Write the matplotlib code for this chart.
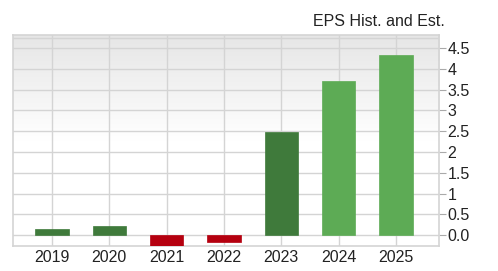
import matplotlib
matplotlib.use("Agg")
import matplotlib.pyplot as plt
import numpy as np

years = ["2019", "2020", "2021", "2022", "2023", "2024", "2025"]
eps = [0.15, 0.22, -0.25, -0.16, 2.47, 3.70, 4.34]
kind = ["hist", "hist", "hist", "hist", "hist", "est", "est"]
ytick_vals = [0.0, 0.5, 1, 1.5, 2, 2.5, 3, 3.5, 4, 4.5]
ytick_labels = ["0.0", "0.5", "1", "1.5", "2", "2.5", "3", "3.5", "4", "4.5"]

plt.rcParams['font.family'] = ['Liberation Sans', 'DejaVu Sans']

W, H = 498, 271
fig = plt.figure(figsize=(W/100, H/100), dpi=100)
left, right, top, bottom = 13, 439, 35, 246
ax = fig.add_axes([left/W, 1-bottom/H, (right-left)/W, (bottom-top)/H])

ymin, ymax = -0.26, 4.81
xmin, xmax = -0.68, 6.75
# gradient background
grad = np.linspace(0, 1, 256).reshape(-1, 1)
from matplotlib.colors import LinearSegmentedColormap
cmap = LinearSegmentedColormap.from_list("bg", ["#ffffff", "#ffffff", "#e6e6e6"])
ax.imshow(grad, aspect='auto', cmap=cmap, origin='lower',
          extent=[xmin, xmax, ymin, ymax], zorder=0)

x = np.arange(len(years))
colors = []
for v, k in zip(eps, kind):
    if v < 0:
        colors.append("#b5000f")
    elif k == "hist":
        colors.append("#3f7a3b")
    else:
        colors.append("#5dab55")
ax.bar(x, eps, width=0.58, color=colors, zorder=3, edgecolor=colors, linewidth=0.5)

ax.set_xlim(xmin, xmax)
ax.set_ylim(ymin, ymax)
ax.set_xticks(x)
ax.set_xticklabels(years, fontsize=11.5, color="#222222")
ax.set_yticks(ytick_vals)
ax.set_yticklabels(ytick_labels, fontsize=11.5, color="#222222")
ax.yaxis.tick_right()
ax.tick_params(axis='y', length=5, color="#aaaaaa", pad=1)
ax.tick_params(axis='x', length=0, pad=3)
ax.grid(True, color="#d4d4d4", linewidth=1, zorder=1)
ax.axhline(4.74, color="#d4d4d4", linewidth=1, zorder=1)
for s in ax.spines.values():
    s.set_color("#d4d4d4")
    s.set_linewidth(1.2)

fig.text(445/W, 1-21/H, "EPS Hist. and Est.", ha='right', va='center',
         fontsize=11.5, color="#222222")

fig.savefig("out.png", dpi=100)
